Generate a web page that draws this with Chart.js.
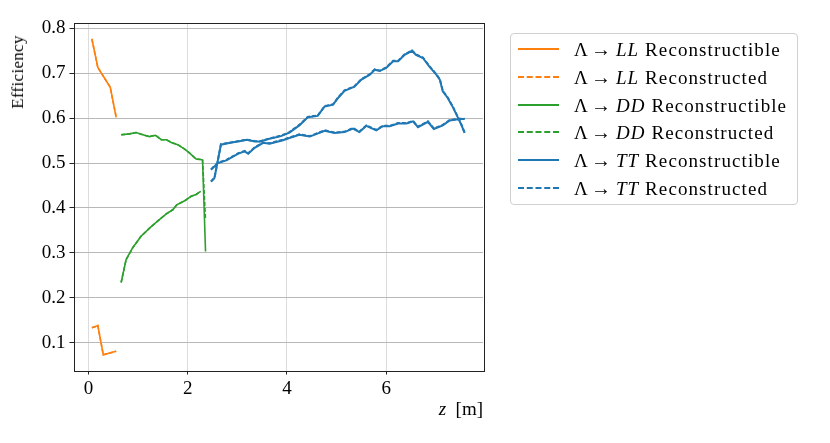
<!DOCTYPE html>
<html><head><meta charset="utf-8">
<script src="https://cdn.jsdelivr.net/npm/chart.js@4/dist/chart.umd.min.js"></script>
<style>
html,body{margin:0;padding:0;background:#fff;}
#wrap{position:relative;width:830px;height:443px;font-family:"Liberation Serif",serif;color:#000;}
#c{position:absolute;left:0;top:0;}
.ttl{position:absolute;white-space:nowrap;}
#ytitle{left:18px;top:72px;font-size:17px;letter-spacing:0.3px;transform:translate(-50%,-50%) rotate(-90deg);}
#xtitle{right:347px;top:398px;font-size:19px;}
#legend{position:absolute;left:510px;top:33px;width:286px;height:170px;border:1px solid #d0d0d0;border-radius:4px;box-sizing:content-box;}
.row{position:absolute;left:0;height:20px;display:flex;align-items:center;font-size:19px;letter-spacing:1.1px;white-space:nowrap;}
.smp{width:41px;height:0;margin-left:7px;margin-right:15px;}
.arr{display:inline-block;margin:0 5px 0 2px;letter-spacing:0;font-size:20px;}
</style></head>
<body><div id="wrap"><canvas id="c" width="830" height="443"></canvas>
<div class="ttl" id="ytitle">Efficiency</div>
<div class="ttl" id="xtitle"><i>z</i>&nbsp; [m]</div>
<div id="legend"></div></div>
<script>
// ---- data ----
const channels = ['LL','DD','TT'];
const kinds = ['Reconstructible','Reconstructed'];
const colors = ['#ff7f0e','#2ca02c','#1f77b4'];
const xTicks = [0,2,4,6];
const yTicks = [0.1,0.2,0.3,0.4,0.5,0.6,0.7,0.8];

// Λ → LL
const zLLhi = [0.07,0.19,0.44,0.56];
const rbleLLhi = [0.777,0.713,0.669,0.602];
const recLLhi  = [0.776,0.713,0.669,0.602];
const zLLlo = [0.07,0.19,0.30,0.56];
const rbleLLlo = [0.133,0.138,0.073,0.081];
const recLLlo  = [0.133,0.138,0.073,0.081];

// Λ → DD
const zDDhi = [0.66,0.83,0.96,1.13,1.23,1.35,1.47,1.57,1.67,1.80,1.94,2.04,2.17,2.26,2.30,2.36];
const rbleDDhi = [0.563,0.565,0.568,0.562,0.559,0.562,0.552,0.552,0.546,0.541,0.531,0.522,0.509,0.508,0.507,0.303];
const recDDhi  = [0.563,0.565,0.568,0.562,0.559,0.562,0.552,0.552,0.546,0.541,0.531,0.522,0.509,0.508,0.507,0.374];
const zDDlo = [0.66,0.76,0.89,1.06,1.26,1.43,1.57,1.70,1.78,1.94,2.07,2.17,2.26];
const rbleDDlo = [0.234,0.285,0.311,0.337,0.358,0.374,0.387,0.396,0.407,0.416,0.426,0.430,0.437];
const recDDlo  = [0.234,0.285,0.311,0.337,0.358,0.374,0.387,0.396,0.407,0.416,0.426,0.430,0.437];

// Λ → TT
const zTThi = [2.47,2.54,2.67,2.88,3.02,3.19,3.35,3.45,3.65,3.88,4.05,4.25,4.42,4.62,4.76,4.93,5.03,5.16,5.36,5.50,5.67,5.77,5.87,6.00,6.14,6.24,6.37,6.52,6.60,6.74,6.87,7.01,7.08,7.14,7.24,7.35,7.45,7.51,7.58];
const rbleTThi = [0.459,0.467,0.541,0.546,0.548,0.552,0.548,0.548,0.554,0.560,0.568,0.584,0.602,0.605,0.626,0.630,0.645,0.661,0.670,0.686,0.697,0.708,0.705,0.712,0.727,0.727,0.741,0.750,0.741,0.734,0.715,0.697,0.686,0.660,0.645,0.623,0.600,0.586,0.567];
const recTThi  = [0.459,0.467,0.542,0.546,0.549,0.552,0.549,0.548,0.555,0.561,0.569,0.585,0.603,0.606,0.627,0.631,0.646,0.662,0.671,0.687,0.698,0.709,0.706,0.713,0.728,0.728,0.742,0.751,0.742,0.735,0.716,0.698,0.687,0.661,0.646,0.624,0.601,0.587,0.568];
const zTTlo = [2.47,2.61,2.78,3.02,3.15,3.22,3.35,3.52,3.65,3.92,4.05,4.25,4.46,4.76,4.96,5.16,5.33,5.46,5.60,5.80,5.93,6.07,6.24,6.41,6.54,6.64,6.84,6.96,7.14,7.28,7.48,7.58];
const rbleTTlo = [0.485,0.500,0.506,0.521,0.526,0.521,0.534,0.545,0.543,0.551,0.556,0.563,0.559,0.572,0.567,0.569,0.577,0.569,0.583,0.573,0.582,0.582,0.588,0.588,0.593,0.580,0.592,0.576,0.584,0.595,0.598,0.598];
const recTTlo  = [0.486,0.501,0.507,0.522,0.527,0.522,0.535,0.546,0.544,0.552,0.557,0.564,0.560,0.573,0.568,0.570,0.578,0.570,0.584,0.574,0.583,0.583,0.589,0.589,0.594,0.581,0.593,0.577,0.585,0.596,0.599,0.599];

// ---- build ----
function branches(zHi, yHi, zLo, yLo){
  const a = zHi.map((z,i)=>({x:z,y:yHi[i]}));
  const b = zLo.map((z,i)=>({x:z,y:yLo[i]}));
  return a.concat([{x:zHi[zHi.length-1],y:null}], b);
}
const series = [
  [branches(zLLhi,rbleLLhi,zLLlo,rbleLLlo), branches(zLLhi,recLLhi,zLLlo,recLLlo)],
  [branches(zDDhi,rbleDDhi,zDDlo,rbleDDlo), branches(zDDhi,recDDhi,zDDlo,recDDlo)],
  [branches(zTThi,rbleTThi,zTTlo,rbleTTlo), branches(zTThi,recTThi,zTTlo,recTTlo)]
];
const datasets = [];
channels.forEach((ch,ci)=>{
  kinds.forEach((k,ki)=>{
    datasets.push({
      label: 'Λ → ' + ch + ' ' + k,
      channel: ch, kind: k,
      data: series[ci][ki],
      borderColor: colors[ci],
      backgroundColor: colors[ci],
      borderWidth: ci===2 ? 2 : 1.6,
      borderDash: ki===0 ? [] : [4,2],
      pointRadius: 0,
      fill: false,
      tension: 0,
      spanGaps: false
    });
  });
});

const framePlugin = {
  id:'frame',
  afterDatasetsDraw(chart){
    const {ctx, chartArea:a} = chart;
    ctx.save();
    ctx.strokeStyle = '#222';
    ctx.lineWidth = 1;
    ctx.strokeRect(Math.round(a.left)+0.5, Math.round(a.top)+0.5, Math.round(a.right-a.left), Math.round(a.bottom-a.top));
    ctx.restore();
  }
};

const tickFont = {family:'"Liberation Serif", serif', size:19};
new Chart(document.getElementById('c'), {
  type:'line',
  data:{datasets},
  plugins:[framePlugin],
  options:{
    responsive:false,
    animation:false,
    devicePixelRatio:1,
    layout:{padding:{left:0, top:23, right:347, bottom:0}},
    plugins:{legend:{display:false}, tooltip:{enabled:false}},
    scales:{
      x:{
        type:'linear', min:-0.30, max:7.95,
        afterBuildTicks(s){ s.ticks = xTicks.map(v=>({value:v})); },
        afterFit(s){ s.height = 72.5; },
        border:{display:false},
        grid:{color:'#dcdcdc', lineWidth:1, drawTicks:true, tickLength:4, tickColor:'#222'},
        ticks:{font:tickFont, color:'#000', padding:3, maxRotation:0, callback:(v)=>String(v)}
      },
      y:{
        type:'linear', min:0.038, max:0.812,
        afterBuildTicks(s){ s.ticks = yTicks.map(v=>({value:v})); },
        afterFit(s){ s.width = 73.5; },
        border:{display:false},
        grid:{color:'#b8b8b8', lineWidth:1, drawTicks:true, tickLength:4, tickColor:'#222'},
        ticks:{font:tickFont, color:'#000', padding:4, callback:(v)=>Number(v).toFixed(1)}
      }
    }
  }
});

// HTML legend built from the datasets
const leg = document.getElementById('legend');
datasets.forEach((d,i)=>{
  const row = document.createElement('div');
  row.className='row';
  row.style.top = Math.round(15.3 + i*27.7 - 10) + 'px';
  const s = document.createElement('div');
  s.className='smp';
  s.style.borderTop = '2px ' + (d.borderDash.length ? 'dashed ' : 'solid ') + d.borderColor;
  const t = document.createElement('span');
  t.innerHTML = 'Λ<span class="arr">→</span><i>' + d.channel + '</i> ' + d.kind;
  row.appendChild(s); row.appendChild(t);
  leg.appendChild(row);
});
</script></body></html>
